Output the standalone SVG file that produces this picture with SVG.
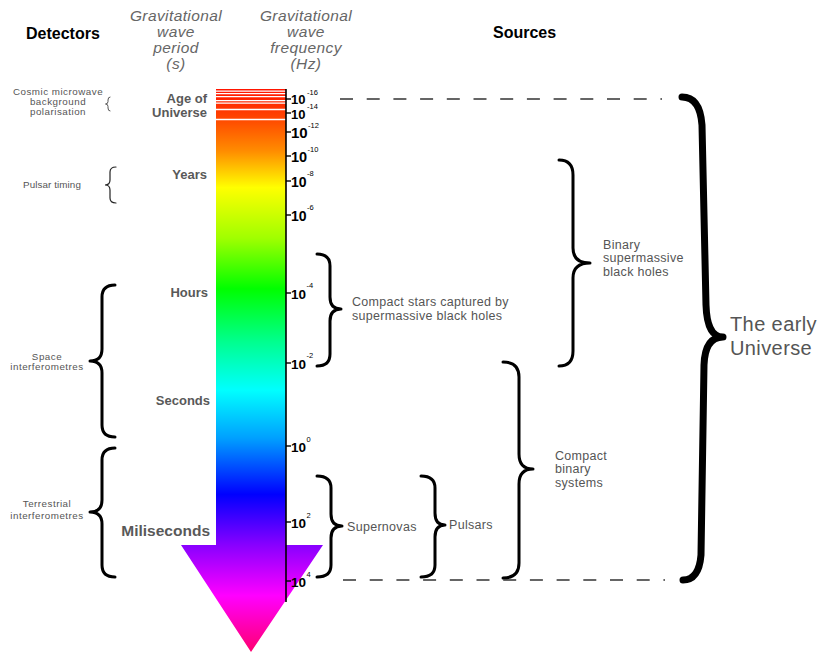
<svg xmlns="http://www.w3.org/2000/svg" width="819" height="653" viewBox="0 0 819 653">
<style>
.hdr{font-family:"Liberation Sans",Arial,sans-serif;font-size:16px;font-weight:bold;fill:#000}
.col{font-family:"Liberation Sans",Arial,sans-serif;font-size:15.5px;font-style:italic;fill:#666;letter-spacing:0.4px;text-anchor:middle}
.det{font-family:"Liberation Sans",Arial,sans-serif;font-size:9.8px;fill:#555;letter-spacing:0.5px;text-anchor:middle}
.per{font-family:"Liberation Sans",Arial,sans-serif;font-size:13px;font-weight:bold;fill:#595959;text-anchor:end}
.src{font-family:"Liberation Sans",Arial,sans-serif;font-size:12.5px;fill:#555;letter-spacing:0.3px}
.big{font-family:"Liberation Sans",Arial,sans-serif;font-size:20px;fill:#555;letter-spacing:0.4px}
.ten{font-family:"Liberation Sans",Arial,sans-serif;font-weight:bold;fill:#000}
.sup{font-family:"Liberation Sans",Arial,sans-serif;font-size:7.5px;fill:#000}
.br{fill:none;stroke:#000;stroke-width:3;stroke-linecap:round;stroke-linejoin:round}
.thin{fill:none;stroke:#222;stroke-width:1.2;stroke-linecap:round}
.dash{stroke:#333;stroke-width:1.5;stroke-dasharray:13 13.7}
.tick{stroke:#000;stroke-width:1.4}
.stripe{stroke:#fff;stroke-width:1.3}
</style>
<defs>
<linearGradient id="g" gradientUnits="userSpaceOnUse" x1="0" y1="89" x2="0" y2="652">
<stop offset="0" stop-color="#ff1400"/>
<stop offset="0.05" stop-color="#ff4400"/>
<stop offset="0.11" stop-color="#ff8c00"/>
<stop offset="0.175" stop-color="#ffff00"/>
<stop offset="0.265" stop-color="#a0ff00"/>
<stop offset="0.355" stop-color="#00ff00"/>
<stop offset="0.45" stop-color="#00ff90"/>
<stop offset="0.535" stop-color="#00ffff"/>
<stop offset="0.62" stop-color="#00a0ff"/>
<stop offset="0.72" stop-color="#0000ff"/>
<stop offset="0.81" stop-color="#8800ff"/>
<stop offset="0.9" stop-color="#ff00ff"/>
<stop offset="1" stop-color="#ff0070"/>
</linearGradient>
</defs>
<rect width="819" height="653" fill="#fff"/>

<g id="headers">
<text class="hdr" x="26" y="39">Detectors</text>
<text class="hdr" x="493" y="38">Sources</text>
<text class="col"><tspan x="176" y="21">Gravitational</tspan><tspan x="176" y="37">wave</tspan><tspan x="176" y="53">period</tspan><tspan x="176" y="69">(s)</tspan></text>
<text class="col"><tspan x="306" y="21">Gravitational</tspan><tspan x="306" y="37">wave</tspan><tspan x="306" y="53">frequency</tspan><tspan x="306" y="69">(Hz)</tspan></text>
</g>

<g id="spectrum-arrow">
<path d="M216 89 H286 V545 H323 L251 652 L181 545 H216 Z" fill="url(#g)"/>
<line class="stripe" x1="216" y1="91.2" x2="286" y2="91.2"/>
<line class="stripe" x1="216" y1="93.6" x2="286" y2="93.6"/>
<line class="stripe" x1="216" y1="96.6" x2="286" y2="96.6"/>
<line class="stripe" x1="216" y1="100.6" x2="286" y2="100.6"/>
<line class="stripe" x1="216" y1="103.2" x2="286" y2="103.2"/>
<line class="stripe" x1="216" y1="109.5" x2="286" y2="109.5"/>
<line class="stripe" x1="216" y1="119.5" x2="286" y2="119.5"/>
</g>

<g id="period-labels">
<text class="per"><tspan x="207" y="103">Age of</tspan><tspan x="207" y="117">Universe</tspan></text>
<text class="per" x="207" y="179">Years</text>
<text class="per" x="208" y="297">Hours</text>
<text class="per" x="210" y="405">Seconds</text>
<text class="per" x="210" y="536" style="font-size:15.5px">Miliseconds</text>
</g>

<g id="frequency-axis">
<line x1="286" y1="89" x2="286" y2="602" stroke="#000" stroke-width="1.6"/>
<line class="tick" x1="286" y1="99" x2="291" y2="99"/>
<text class="ten" x="291" y="104" font-size="13">10</text><text class="sup" x="307" y="95">-16</text>
<line class="tick" x1="286" y1="113" x2="291" y2="113"/>
<text class="ten" x="291" y="119" font-size="13">10</text><text class="sup" x="307" y="109">-14</text>
<line class="tick" x1="286" y1="132" x2="291" y2="132"/>
<text class="ten" x="291" y="137.5" font-size="15">10</text><text class="sup" x="308" y="128">-12</text>
<line class="tick" x1="286" y1="156" x2="291" y2="156"/>
<text class="ten" x="291" y="161.5" font-size="14.5">10</text><text class="sup" x="307.5" y="152">-10</text>
<line class="tick" x1="286" y1="181" x2="291" y2="181"/>
<text class="ten" x="291" y="186.5" font-size="14">10</text><text class="sup" x="307" y="176">-8</text>
<line class="tick" x1="286" y1="215" x2="291" y2="215"/>
<text class="ten" x="291" y="220.5" font-size="14">10</text><text class="sup" x="307" y="210">-6</text>
<line class="tick" x1="286" y1="293" x2="291" y2="293"/>
<text class="ten" x="291" y="298.5" font-size="13.5">10</text><text class="sup" x="306.5" y="288">-4</text>
<line class="tick" x1="286" y1="363" x2="291" y2="363"/>
<text class="ten" x="291" y="368.5" font-size="13.5">10</text><text class="sup" x="306.5" y="358">-2</text>
<line class="tick" x1="286" y1="446" x2="291" y2="446"/>
<text class="ten" x="291" y="452" font-size="13.5">10</text><text class="sup" x="306.5" y="442">0</text>
<line class="tick" x1="286" y1="522" x2="291" y2="522"/>
<text class="ten" x="291" y="528" font-size="13.5">10</text><text class="sup" x="306.5" y="518">2</text>
<line class="tick" x1="286" y1="581" x2="291" y2="581"/>
<text class="ten" x="291" y="587" font-size="13.5">10</text><text class="sup" x="306.5" y="577">4</text>
</g>

<g id="det-cmb">
<text class="det"><tspan x="58" y="95">Cosmic microwave</tspan><tspan x="58" y="104.5">background</tspan><tspan x="58" y="114.5">polarisation</tspan></text>
<path class="thin" style="stroke:#555;stroke-width:1" d="M110 97 Q108 97 108 100 L108 101.5 Q108 104 105.5 104 Q108 104 108 106.5 L108 108 Q108 111 110 111"/>
</g>
<g id="det-pulsar">
<text class="det" style="letter-spacing:0.1px" x="52" y="188">Pulsar timing</text>
<path class="thin" d="M116 167 Q110 167 110 172 L110 180 Q110 185 105 185 Q110 185 110 190 L110 198 Q110 203 116 203"/>
</g>
<g id="det-space">
<text class="det"><tspan x="47" y="360">Space</tspan><tspan x="47" y="370">interferometres</tspan></text>
<path class="br" d="M115 285 Q102 285 102 297 L102 349 Q102 361 90 361 Q102 361 102 373 L102 425 Q102 437 115 437"/>
</g>
<g id="det-terrestrial">
<text class="det"><tspan x="47" y="507">Terrestrial</tspan><tspan x="47" y="519">interferometres</tspan></text>
<path class="br" d="M115 448 Q102 448 102 460 L102 500 Q102 512 90 512 Q102 512 102 524 L102 565 Q102 577 115 577"/>
</g>

<g id="src-compact-stars">
<path class="br" d="M317 254 Q330 254 330 266 L330 297 Q330 309 341 309 Q330 309 330 321 L330 354 Q330 366 317 366"/>
<text class="src"><tspan x="352" y="306">Compact stars captured by</tspan><tspan x="352" y="320">supermassive black holes</tspan></text>
</g>
<g id="src-supernovas">
<path class="br" d="M317 476 Q331 476 331 488 L331 514 Q331 526 342 526 Q331 526 331 538 L331 565 Q331 577 317 577"/>
<text class="src" x="347" y="530.5">Supernovas</text>
</g>
<g id="src-pulsars">
<path class="br" d="M421 476 Q435 476 435 488 L435 513 Q435 525 445 525 Q435 525 435 537 L435 565 Q435 577 421 577"/>
<text class="src" x="449" y="529">Pulsars</text>
</g>
<g id="src-compact-binary">
<path class="br" d="M503 362 Q519 362 519 377 L519 454 Q519 469 533 469 Q519 469 519 484 L519 563 Q519 578 503 578"/>
<text class="src"><tspan x="555" y="459.5">Compact</tspan><tspan x="555" y="473">binary</tspan><tspan x="555" y="486.5">systems</tspan></text>
</g>
<g id="src-binary-smbh">
<path class="br" d="M559 160 Q573 160 573 175 L573 248 Q573 263 590 263 Q573 263 573 278 L573 351 Q573 366 559 366"/>
<text class="src"><tspan x="603" y="248.5">Binary</tspan><tspan x="603" y="262">supermassive</tspan><tspan x="603" y="275.5">black holes</tspan></text>
</g>
<g id="src-early-universe">
<path class="br" style="stroke-width:7" d="M682 97 Q700 97 702 125 L706 305 Q707 337 723 337 Q705 337 704 365 L701 555 Q699 580 683 580"/>
<text class="big"><tspan x="730" y="331">The early</tspan><tspan x="730" y="355">Universe</tspan></text>
</g>

<g id="connectors">
<line class="dash" x1="340" y1="99" x2="662" y2="99"/>
<line class="dash" x1="343" y1="580" x2="665" y2="580"/>
</g>
</svg>
